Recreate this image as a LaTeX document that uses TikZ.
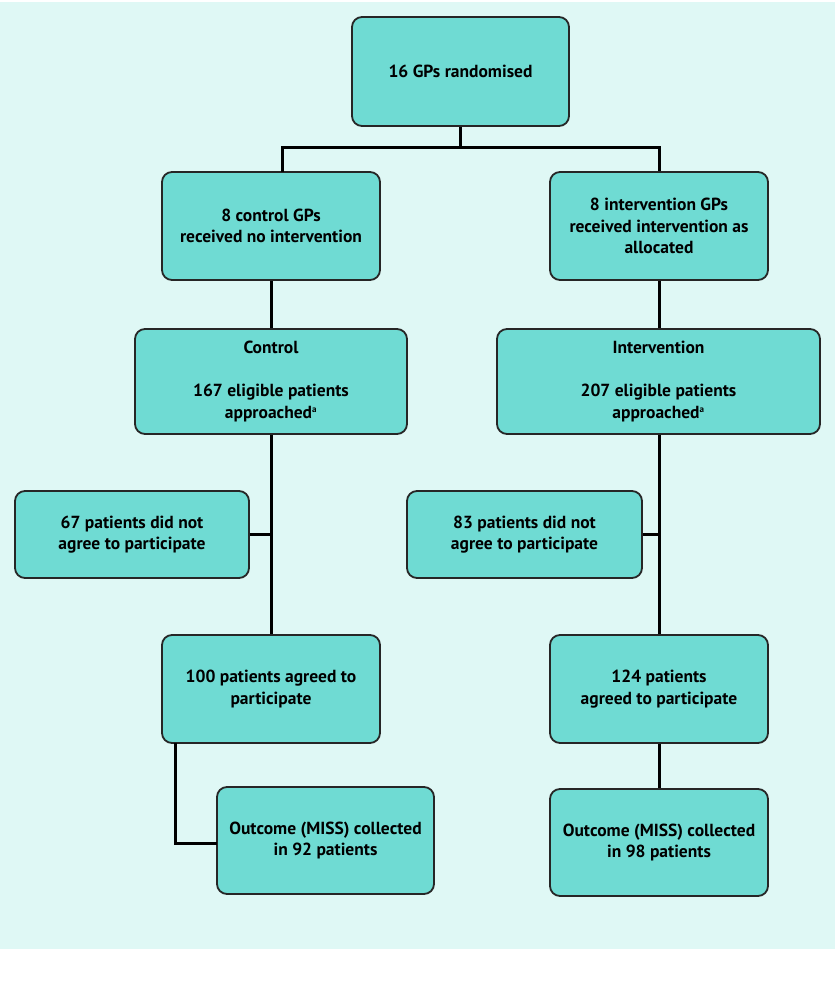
\documentclass[tikz,border=0pt]{standalone}
\usepackage{fontspec}
\setmainfont{PT Sans}
\begin{document}
\begin{tikzpicture}[x=1pt,y=-1pt,
  box/.style={draw=black!85, line width=1.8pt, fill=boxfill, rounded corners=10pt,
    inner sep=0pt, align=center, font=\bfseries\fontsize{17.5}{21.7}\selectfont},
  conn/.style={line width=3pt, black}]
\definecolor{boxfill}{HTML}{6FDBD3}
\definecolor{bgfill}{HTML}{DFF8F5}
\useasboundingbox (0,0) rectangle (837,999);
\fill[bgfill] (0,2) rectangle (835,949);
\node[box, minimum width=217pt, minimum height=109pt] (top) at (460.5,71.5) {16 GPs randomised};
\node[box, minimum width=218pt, minimum height=108pt] (cgp) at (271,226) {8 control GPs\\received no intervention};
\node[box, minimum width=218pt, minimum height=108pt] (igp) at (659,226) {8 intervention GPs\\received intervention as\\allocated};
\node[box, minimum width=272pt, minimum height=105pt] (ctl) at (271,381.5) {Control\\[21.7pt]167 eligible patients\\approached\textsuperscript{\fontsize{9}{9}\selectfont a}};
\node[box, minimum width=323pt, minimum height=105pt] (int) at (658.5,381.5) {Intervention\\[21.7pt]207 eligible patients\\approached\textsuperscript{\fontsize{9}{9}\selectfont a}};
\node[box, minimum width=234pt, minimum height=87pt] (c67) at (132,534.5) {67 patients did not\\agree to participate};
\node[box, minimum width=235pt, minimum height=87pt] (i83) at (524.5,534.5) {83 patients did not\\agree to participate};
\node[box, minimum width=218pt, minimum height=108pt] (c100) at (271,689) {100 patients agreed to\\participate};
\node[box, minimum width=218pt, minimum height=108pt] (i124) at (659,689) {124 patients\\agreed to participate};
\node[box, minimum width=217pt, minimum height=107pt] (c92) at (325.5,840.5) {Outcome (MISS) collected\\in 92 patients};
\node[box, minimum width=218pt, minimum height=107pt] (i98) at (659,842.5) {Outcome (MISS) collected\\in 98 patients};
\coordinate (split) at (460.5,147);
\coordinate (cl) at (282.5,147);
\coordinate (cltop) at (282.5,172);
\coordinate (cbend) at (175,743);
\coordinate (cturn) at (175,843);
\coordinate (cend) at (217,843);
\draw[conn] (top.south) -- (split);
\draw[conn] (cltop) -- (cl) -- (split) -| (igp.north);
\draw[conn] (cgp.south) -- (ctl.north);
\draw[conn] (igp.south) -- (int.north -| igp.south);
\draw[conn] (ctl.south) -- (c100.north);
\draw[conn] (igp.south |- int.south) -- (i124.north);
\draw[conn] (c67.east) -- (c67.east -| ctl.south);
\draw[conn] (i83.east) -- (i83.east -| igp.south);
\draw[conn] (cbend) -- (cturn) -- (cend);
\draw[conn] (i124.south) -- (i98.north);
\end{tikzpicture}
\end{document}
